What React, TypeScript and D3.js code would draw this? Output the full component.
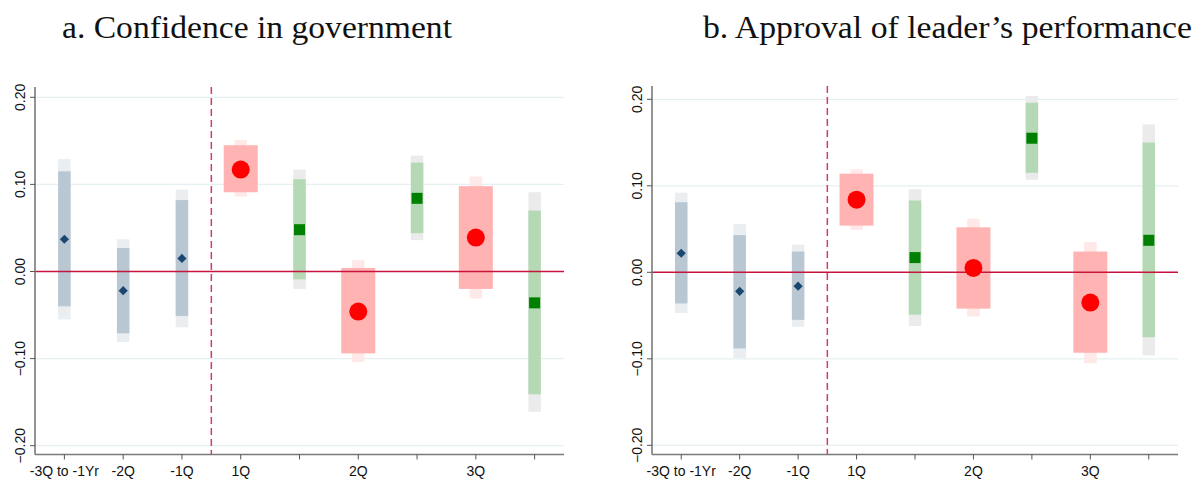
import React from "react";
import * as d3 from "d3";

// ---- data ----
const tickLabels = ["-3Q to -1Yr", "-2Q", "-1Q", "1Q", "", "2Q", "", "3Q", ""];
const kinds = ["pre", "pre", "pre", "red", "green", "red", "green", "red", "green"];

// Panel a: Confidence in government
const aPoint = [0.037, -0.022, 0.015, 0.117, 0.048, -0.046, 0.084, 0.039, -0.036];
const aLo90 = [-0.040, -0.071, -0.051, 0.091, -0.009, -0.094, 0.044, -0.020, -0.141];
const aHi90 = [0.115, 0.027, 0.082, 0.145, 0.106, 0.004, 0.125, 0.098, 0.070];
const aLo95 = [-0.055, -0.081, -0.064, 0.086, -0.020, -0.104, 0.036, -0.031, -0.161];
const aHi95 = [0.129, 0.037, 0.094, 0.151, 0.117, 0.013, 0.133, 0.109, 0.091];

// Panel b: Approval of leader's performance
const bPoint = [0.022, -0.022, -0.016, 0.084, 0.017, 0.005, 0.155, -0.035, 0.037];
const bLo90 = [-0.036, -0.088, -0.055, 0.054, -0.049, -0.042, 0.115, -0.093, -0.075];
const bHi90 = [0.081, 0.043, 0.024, 0.114, 0.083, 0.052, 0.196, 0.024, 0.150];
const bLo95 = [-0.047, -0.099, -0.063, 0.049, -0.062, -0.051, 0.107, -0.105, -0.096];
const bHi95 = [0.092, 0.056, 0.032, 0.119, 0.096, 0.062, 0.204, 0.035, 0.171];

const yTicks = [-0.2, -0.1, 0, 0.1, 0.2];

const COLORS = {
  pre: { inner: "#b9c7d3", outer: "#ebeef1", marker: "#1a476f" },
  red: { inner: "#ffb3b3", outer: "#ffe8e8", marker: "#ff0000" },
  green: { inner: "#b4d9b4", outer: "#ebebeb", marker: "#008000" },
};

type PanelProps = {
  title: string;
  titleX: number;
  titleLen: number;
  x0: number;
  x1: number;
  yTop: number;
  yBottom: number;
  yPlus: number;
  yMinus: number;
  point: number[];
  lo90: number[];
  hi90: number[];
  lo95: number[];
  hi95: number[];
};

function Panel(p: PanelProps) {
  const x = d3.scaleLinear().domain([0.5, 9.5]).range([p.x0, p.x1]);
  const y = d3.scaleLinear().domain([-0.2, 0.2]).range([p.yMinus, p.yPlus]);
  const idx = d3.range(9);
  const fmt = d3.format(".2f");
  const narrow = 12.5;
  const wide = 34;
  return (
    <g>
      <text
        x={p.titleX}
        y={38}
        fontFamily="'Liberation Serif', 'DejaVu Serif', serif"
        fontSize={32}
        fill="#111"
        textLength={p.titleLen}
        lengthAdjust="spacingAndGlyphs"
      >
        {p.title}
      </text>
      {/* grid lines */}
      {yTicks
        .filter((t) => t !== 0)
        .map((t) => (
          <line key={"g" + t} x1={p.x0} x2={p.x1} y1={y(t)} y2={y(t)} stroke="#e6eff1" strokeWidth={1.2} />
        ))}
      {/* CI bars */}
      {idx.map((i) => {
        const c = COLORS[kinds[i] as keyof typeof COLORS];
        const cx = x(i + 1);
        const innerW = kinds[i] === "red" ? wide : narrow;
        return (
          <g key={"b" + i}>
            <rect x={cx - narrow / 2} y={y(p.hi95[i])} width={narrow} height={y(p.lo95[i]) - y(p.hi95[i])} fill={c.outer} />
            <rect x={cx - innerW / 2} y={y(p.hi90[i])} width={innerW} height={y(p.lo90[i]) - y(p.hi90[i])} fill={c.inner} />
          </g>
        );
      })}
      {/* zero line */}
      <line x1={p.x0} x2={p.x1} y1={y(0)} y2={y(0)} stroke="#c8143c" strokeWidth={1.6} />
      {/* dashed vertical */}
      <line x1={x(3.5)} x2={x(3.5)} y1={p.yTop} y2={p.yBottom} stroke="#d63a66" strokeWidth={1.5} strokeDasharray="7,4" />
      {/* markers */}
      {idx.map((i) => {
        const c = COLORS[kinds[i] as keyof typeof COLORS];
        const cx = x(i + 1);
        const cy = y(p.point[i]);
        if (kinds[i] === "red") return <circle key={"m" + i} cx={cx} cy={cy} r={9} fill={c.marker} />;
        if (kinds[i] === "green")
          return <rect key={"m" + i} x={cx - 5.5} y={cy - 5.5} width={11} height={11} fill={c.marker} />;
        const s = 4.6;
        return (
          <path key={"m" + i} d={`M${cx},${cy - s}L${cx + s},${cy}L${cx},${cy + s}L${cx - s},${cy}Z`} fill={c.marker} />
        );
      })}
      {/* axes */}
      <line x1={p.x0} x2={p.x0} y1={p.yTop} y2={p.yBottom} stroke="#7a7a7a" strokeWidth={1.6} />
      <line x1={p.x0} x2={p.x1} y1={p.yBottom} y2={p.yBottom} stroke="#7a7a7a" strokeWidth={1.6} />
      {yTicks.map((t) => (
        <g key={"yt" + t}>
          <line x1={p.x0 - 5} x2={p.x0} y1={y(t)} y2={y(t)} stroke="#555" strokeWidth={1} />
          <text
            transform={`translate(${p.x0 - 10},${y(t)}) rotate(-90)`}
            textAnchor="middle"
            fontFamily="'Liberation Sans', Arial, sans-serif"
            fontSize={14}
            fill="#111"
          >
            {fmt(t)}
          </text>
        </g>
      ))}
      {idx.map((i) => (
        <g key={"xt" + i}>
          <line x1={x(i + 1)} x2={x(i + 1)} y1={p.yBottom} y2={p.yBottom + 5} stroke="#555" strokeWidth={1} />
          <text
            x={x(i + 1)}
            y={476}
            textAnchor="middle"
            fontFamily="'Liberation Sans', Arial, sans-serif"
            fontSize={14}
            fill="#111"
          >
            {tickLabels[i]}
          </text>
        </g>
      ))}
    </g>
  );
}

export default function App() {
  return (
    <svg
      width={1196}
      height={479}
      viewBox="0 0 1196 479"
      style={{ position: "absolute", left: 0, top: 0, background: "#fff" }}
    >
      <rect width={1196} height={479} fill="#fff" />
      <Panel
        title="a. Confidence in government"
        titleX={62}
        titleLen={390}
        x0={35}
        x1={564}
        yTop={87}
        yBottom={454.5}
        yPlus={97.3}
        yMinus={445.7}
        point={aPoint}
        lo90={aLo90}
        hi90={aHi90}
        lo95={aLo95}
        hi95={aHi95}
      />
      <Panel
        title="b. Approval of leader’s performance"
        titleX={703}
        titleLen={489}
        x0={652}
        x1={1178}
        yTop={86}
        yBottom={454.5}
        yPlus={99.3}
        yMinus={445.3}
        point={bPoint}
        lo90={bLo90}
        hi90={bHi90}
        lo95={bLo95}
        hi95={bHi95}
      />
    </svg>
  );
}
